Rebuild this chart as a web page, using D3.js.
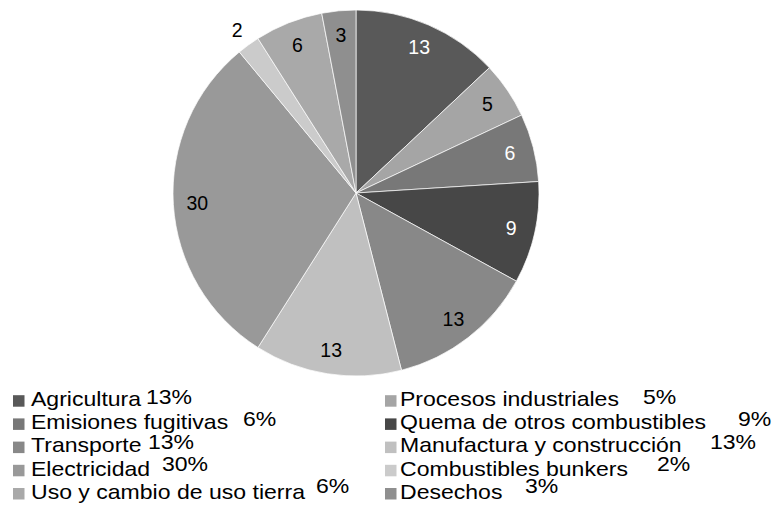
<!DOCTYPE html>
<html>
<head>
<meta charset="utf-8">
<script src="https://cdn.jsdelivr.net/npm/d3@7/dist/d3.min.js"></script>
<style>
  html, body { margin: 0; padding: 0; background: #fff; }
  svg { display: block; font-family: "Liberation Sans", Arial, sans-serif; }
</style>
</head>
<body>
<svg id="chart" width="775" height="512"></svg>
<script>
// Emission shares by sector (percent)
const categories = [
  "Agricultura",
  "Procesos industriales",
  "Emisiones fugitivas",
  "Quema de otros combustibles",
  "Transporte",
  "Manufactura y construcción",
  "Electricidad",
  "Combustibles bunkers",
  "Uso y cambio de uso tierra",
  "Desechos"
];
const values = [13, 5, 6, 9, 13, 13, 30, 2, 6, 3];
const percentLabels = ["13%", "5%", "6%", "9%", "13%", "13%", "30%", "2%", "6%", "3%"];

// Grey palette for the slices and the matching label ink
const colors = ["#595959", "#a5a5a5", "#787878", "#474747", "#888888",
                "#c0c0c0", "#999999", "#cbcbcb", "#a9a9a9", "#8f8f8f"];
const labelInk = ["#fff", "#000", "#fff", "#fff", "#000",
                  "#000", "#000", "#000", "#000", "#000"];

// Legend layout: x of the percent text for each entry
const pctX = [146, 643, 243, 738, 148, 710, 162, 657, 316, 525];

const svg = d3.select("#chart");
const cx = 356, cy = 193, R = 183;

const pie = d3.pie().sort(null).value(d => d)(values);
const arc = d3.arc().innerRadius(0).outerRadius(R);
const labelArcIn = d3.arc().innerRadius(159).outerRadius(159);
const labelArcOut = d3.arc().innerRadius(202).outerRadius(202);

const g = svg.append("g").attr("transform", `translate(${cx},${cy})`);

g.selectAll("path.slice")
  .data(pie)
  .join("path")
  .attr("class", "slice")
  .attr("d", arc)
  .attr("fill", (d, i) => colors[i])
  .attr("stroke", "#ffffff")
  .attr("stroke-width", 0.7);

g.selectAll("text.val")
  .data(pie)
  .join("text")
  .attr("class", "val")
  .attr("transform", d => {
    const a = d.data < 3 ? labelArcOut : labelArcIn;
    return `translate(${a.centroid(d)})`;
  })
  .attr("text-anchor", "middle")
  .attr("dy", "0.36em")
  .attr("font-size", 19.5)
  .attr("fill", (d, i) => d.data < 3 ? "#000" : labelInk[i])
  .text(d => d3.format("d")(d.data));

// Legend: two columns, filled row by row
const legend = svg.append("g");
const colX = [13, 385];
const textX = [31, 400];
const baseY = 406, pitch = 23.2;
const pctBaseY = 404, pctPitch = 22.3;
const sx = 1.13, fs = 20.4;

categories.forEach((name, i) => {
  const col = i % 2, row = Math.floor(i / 2);
  const y = baseY + row * pitch;
  legend.append("rect")
    .attr("x", colX[col])
    .attr("y", y - 10.8)
    .attr("width", 11.5)
    .attr("height", 11.5)
    .attr("fill", colors[i]);
  legend.append("text")
    .attr("transform", `translate(${textX[col]},${y}) scale(${sx},1)`)
    .attr("font-size", fs)
    .attr("fill", "#000")
    .text(name);
  legend.append("text")
    .attr("transform", `translate(${pctX[i]},${pctBaseY + row * pctPitch}) scale(${sx},1)`)
    .attr("font-size", fs)
    .attr("fill", "#000")
    .text(percentLabels[i]);
});
</script>
</body>
</html>
